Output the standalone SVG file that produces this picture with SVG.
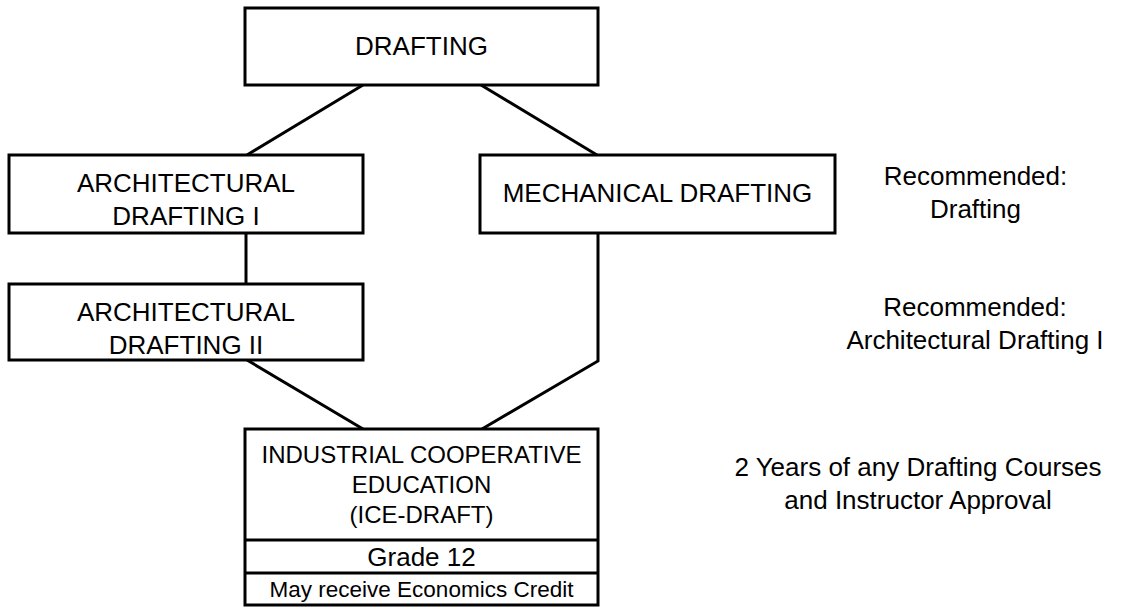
<svg xmlns="http://www.w3.org/2000/svg" width="1125" height="607" viewBox="0 0 1125 607">
<style>
.box{fill:#fff;stroke:#000;stroke-width:3}
.ln{fill:none;stroke:#000;stroke-width:3}
text{font-family:"Liberation Sans",Arial,sans-serif;fill:#000;text-anchor:middle}
.t{font-size:26px}
.s{font-size:24px}
.xs{font-size:22.5px}
</style>
<rect width="1125" height="607" fill="#fff"/>
<g id="connectors">
<line class="ln" x1="363" y1="85" x2="247" y2="155"/>
<line class="ln" x1="481" y1="85" x2="597" y2="155"/>
<line class="ln" x1="246" y1="233" x2="246" y2="284"/>
<line class="ln" x1="247" y1="360" x2="363" y2="429"/>
<polyline class="ln" points="598,233 598,361 482,429"/>
</g>
<g id="drafting">
<rect class="box" x="245" y="8" width="353" height="77"/>
<text class="t" x="421.5" y="55">DRAFTING</text>
</g>
<g id="arch1">
<rect class="box" x="9" y="155" width="354" height="78"/>
<text class="t" x="186" y="192">ARCHITECTURAL</text>
<text class="t" x="186" y="225">DRAFTING I</text>
</g>
<g id="mech">
<rect class="box" x="480" y="155" width="355" height="78"/>
<text class="t" x="657.5" y="202">MECHANICAL DRAFTING</text>
</g>
<g id="arch2">
<rect class="box" x="9" y="284" width="354" height="76"/>
<text class="t" x="186" y="321">ARCHITECTURAL</text>
<text class="t" x="186" y="354">DRAFTING II</text>
</g>
<g id="ice">
<rect class="box" x="245" y="429" width="353" height="176"/>
<line class="ln" x1="245" y1="540" x2="598" y2="540"/>
<line class="ln" x1="245" y1="573" x2="598" y2="573"/>
<text class="s" x="421.5" y="463">INDUSTRIAL COOPERATIVE</text>
<text class="s" x="421.5" y="493">EDUCATION</text>
<text class="s" x="421.5" y="523">(ICE-DRAFT)</text>
<text class="t" x="421.5" y="566">Grade 12</text>
<text class="xs" x="421.5" y="597">May receive Economics Credit</text>
</g>
<g id="notes">
<text class="t" x="975.5" y="185">Recommended:</text>
<text class="t" x="975.5" y="218">Drafting</text>
<text class="t" x="975" y="316">Recommended:</text>
<text class="t" x="975" y="349">Architectural Drafting I</text>
<text class="t" x="918" y="476">2 Years of any Drafting Courses</text>
<text class="t" x="918" y="509">and Instructor Approval</text>
</g>
</svg>
